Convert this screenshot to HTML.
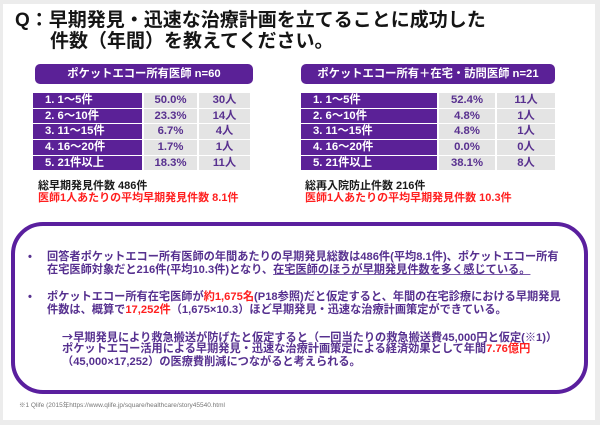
<!DOCTYPE html>
<html><head><meta charset="utf-8">
<style>
*{margin:0;padding:0;box-sizing:border-box;}
html,body{width:600px;height:425px;overflow:hidden;background:#ececec;}
body{position:relative;font-family:"Liberation Sans","Noto Sans CJK JP",sans-serif;font-weight:bold;}
.panel{position:absolute;left:3px;top:4px;width:592px;height:416px;background:#fff;}
.a{position:absolute;white-space:nowrap;}
.t{font-size:19px;line-height:22px;color:#151515;}
.hd{position:absolute;height:20px;background:#5b2197;border-radius:5px;color:#fff;font-size:11.3px;line-height:20px;text-align:center;white-space:nowrap;}
.c{position:absolute;height:14.7px;font-size:11.3px;line-height:14.7px;white-space:nowrap;}
.lb{background:#5b2197;color:#fff;padding-left:12px;}
.gv{background:#e4e4e4;color:#58308f;text-align:center;}
.sm{font-size:11px;line-height:11.5px;}
.bk{color:#1a1a1a;}
.rd{color:#ff1f1f;}
.box{position:absolute;left:11px;top:222px;width:577px;height:172px;border:4px solid #5a1f9e;border-radius:32px;}
.p{position:absolute;font-size:11.2px;line-height:13px;color:#56308f;white-space:nowrap;}
.u{text-decoration:underline;text-decoration-color:#7a5aa8;}
.ar{font-family:"Noto Sans CJK JP",sans-serif;}
.fn{position:absolute;left:19px;top:402px;font-size:6.5px;line-height:8px;color:#777;font-weight:normal;white-space:nowrap;}
</style></head><body>
<div class="panel"></div>

<div class="a t" style="left:15px;top:10px;">Q：早期発見・迅速な治療計画を立てることに成功した</div>
<div class="a t" style="left:50px;top:31px;">件数（年間）を教えてください。</div>

<div class="hd" style="left:35px;top:64px;width:218px;">ポケットエコー所有医師 n=60</div>
<div class="hd" style="left:301px;top:64px;width:254px;">ポケットエコー所有＋在宅・訪問医師 n=21</div>

<!-- left table -->
<div class="c lb" style="left:33px;top:93px;width:109px;">1. 1～5件</div>
<div class="c gv" style="left:144px;top:93px;width:53px;">50.0%</div>
<div class="c gv" style="left:199px;top:93px;width:51px;">30人</div>
<div class="c lb" style="left:33px;top:108.7px;width:109px;">2. 6～10件</div>
<div class="c gv" style="left:144px;top:108.7px;width:53px;">23.3%</div>
<div class="c gv" style="left:199px;top:108.7px;width:51px;">14人</div>
<div class="c lb" style="left:33px;top:124.4px;width:109px;">3. 11～15件</div>
<div class="c gv" style="left:144px;top:124.4px;width:53px;">6.7%</div>
<div class="c gv" style="left:199px;top:124.4px;width:51px;">4人</div>
<div class="c lb" style="left:33px;top:140.1px;width:109px;">4. 16～20件</div>
<div class="c gv" style="left:144px;top:140.1px;width:53px;">1.7%</div>
<div class="c gv" style="left:199px;top:140.1px;width:51px;">1人</div>
<div class="c lb" style="left:33px;top:155.8px;width:109px;">5. 21件以上</div>
<div class="c gv" style="left:144px;top:155.8px;width:53px;">18.3%</div>
<div class="c gv" style="left:199px;top:155.8px;width:51px;">11人</div>

<!-- right table -->
<div class="c lb" style="left:301px;top:93px;width:136px;">1. 1～5件</div>
<div class="c gv" style="left:439px;top:93px;width:56px;">52.4%</div>
<div class="c gv" style="left:497px;top:93px;width:58px;">11人</div>
<div class="c lb" style="left:301px;top:108.7px;width:136px;">2. 6～10件</div>
<div class="c gv" style="left:439px;top:108.7px;width:56px;">4.8%</div>
<div class="c gv" style="left:497px;top:108.7px;width:58px;">1人</div>
<div class="c lb" style="left:301px;top:124.4px;width:136px;">3. 11～15件</div>
<div class="c gv" style="left:439px;top:124.4px;width:56px;">4.8%</div>
<div class="c gv" style="left:497px;top:124.4px;width:58px;">1人</div>
<div class="c lb" style="left:301px;top:140.1px;width:136px;">4. 16～20件</div>
<div class="c gv" style="left:439px;top:140.1px;width:56px;">0.0%</div>
<div class="c gv" style="left:497px;top:140.1px;width:58px;">0人</div>
<div class="c lb" style="left:301px;top:155.8px;width:136px;">5. 21件以上</div>
<div class="c gv" style="left:439px;top:155.8px;width:56px;">38.1%</div>
<div class="c gv" style="left:497px;top:155.8px;width:58px;">8人</div>

<div class="a sm bk" style="left:38px;top:181px;">総早期発見件数 486件</div>
<div class="a sm rd" style="left:38px;top:192.5px;">医師1人あたりの平均早期発見件数 8.1件</div>
<div class="a sm bk" style="left:305px;top:181px;">総再入院防止件数 216件</div>
<div class="a sm rd" style="left:305px;top:192.5px;">医師1人あたりの平均早期発見件数 10.3件</div>

<div class="box"></div>
<div class="p" style="left:28px;top:250.5px;">•</div>
<div class="p" style="left:47px;top:250.5px;">回答者ポケットエコー所有医師の年間あたりの早期発見総数は486件(平均8.1件)、ポケットエコー所有</div>
<div class="p" style="left:47px;top:263.5px;">在宅医師対象だと216件(平均10.3件)となり、<span class="u">在宅医師のほうが早期発見件数を多く感じている。</span></div>

<div class="p" style="left:28px;top:290.5px;">•</div>
<div class="p" style="left:47px;top:290.5px;">ポケットエコー所有在宅医師が<span class="rd">約1,675名</span>(P18参照)だと仮定すると、年間の在宅診療における早期発見</div>
<div class="p" style="left:47px;top:303.5px;">件数は、概算で<span class="rd">17,252件</span>（1,675×10.3）ほど早期発見・迅速な治療計画策定ができている。</div>

<div class="p" style="left:62px;top:330.5px;"><span class="ar">→</span>早期発見により救急搬送が防げたと仮定すると（一回当たりの救急搬送費45,000円と仮定(※1)）</div>
<div class="p" style="left:62px;top:343px;">ポケットエコー活用による早期発見・迅速な治療計画策定による経済効果として年間<span class="rd">7.76億円</span></div>
<div class="p" style="left:62px;top:355.5px;">（45,000×17,252）の医療費削減につながると考えられる。</div>

<div class="fn">※1 Qlife (2015年https://www.qlife.jp/square/healthcare/story45540.html</div>
</body></html>
